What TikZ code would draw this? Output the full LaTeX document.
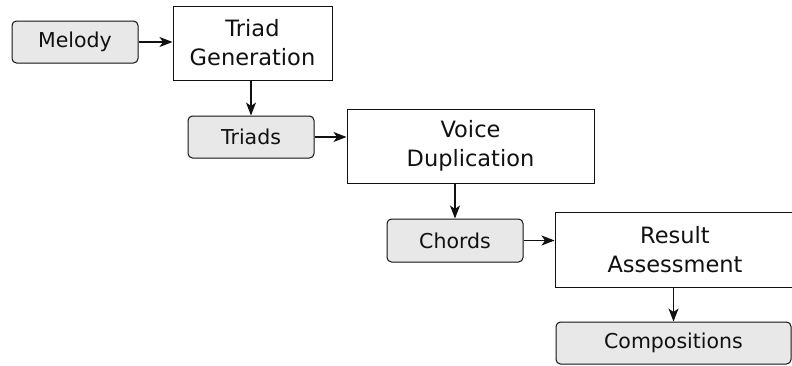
\documentclass[tikz,border=0pt]{standalone}
\usepackage{fontspec}
\setmainfont{DejaVu Sans}
\usetikzlibrary{arrows.meta}
\definecolor{boxgray}{HTML}{E8E8E8}
\definecolor{ink}{HTML}{111111}
\tikzset{
  procbox/.style={draw=ink, line width=1pt, fill=white, rectangle, align=center,
    inner sep=0pt, text=ink, font=\fontsize{22.5}{29}\selectfont},
  databox/.style={draw=ink, line width=1pt, fill=boxgray, rectangle, rounded corners=4.5pt,
    inner sep=0pt, text=ink, font=\fontsize{20.5}{24}\selectfont},
  flow/.style={draw=ink, line width=1.1pt, -{Stealth[length=13pt,width=10pt,inset=3.5pt]}}
}
\begin{document}
\begin{tikzpicture}[x=1pt,y=-1pt]
\useasboundingbox (0,0) rectangle (792,365);
\clip (0,0) rectangle (792,365);
\node[databox, minimum width=126pt, minimum height=42pt] (melody) at (75,42) {Melody};
\node[procbox, minimum width=159pt, minimum height=74pt] (tg) at (252.5,43) {Triad\\Generation};
\node[databox, minimum width=126pt, minimum height=42pt] (triads) at (251,137) {Triads};
\node[procbox, minimum width=247pt, minimum height=74pt] (vd) at (470.5,146) {Voice\\Duplication};
\node[databox, minimum width=136pt, minimum height=43pt] (chords) at (455,240.5) {Chords};
\node[procbox, minimum width=240pt, minimum height=75pt] (ra) at (675,249.5) {Result\\Assessment};
\node[databox, minimum width=235pt, minimum height=42pt] (comp) at (673.5,343) {Compositions};
\draw[flow] (melody.east) -- (melody.east -| tg.west);
\draw[flow] (tg.south -| triads.north) -- (triads.north);
\draw[flow] (triads.east) -- (triads.east -| vd.west);
\draw[flow] (vd.south -| chords.north) -- (chords.north);
\draw[flow] (chords.east) -- (chords.east -| ra.west);
\draw[flow] (ra.south -| comp.north) -- (comp.north);
\end{tikzpicture}
\end{document}
